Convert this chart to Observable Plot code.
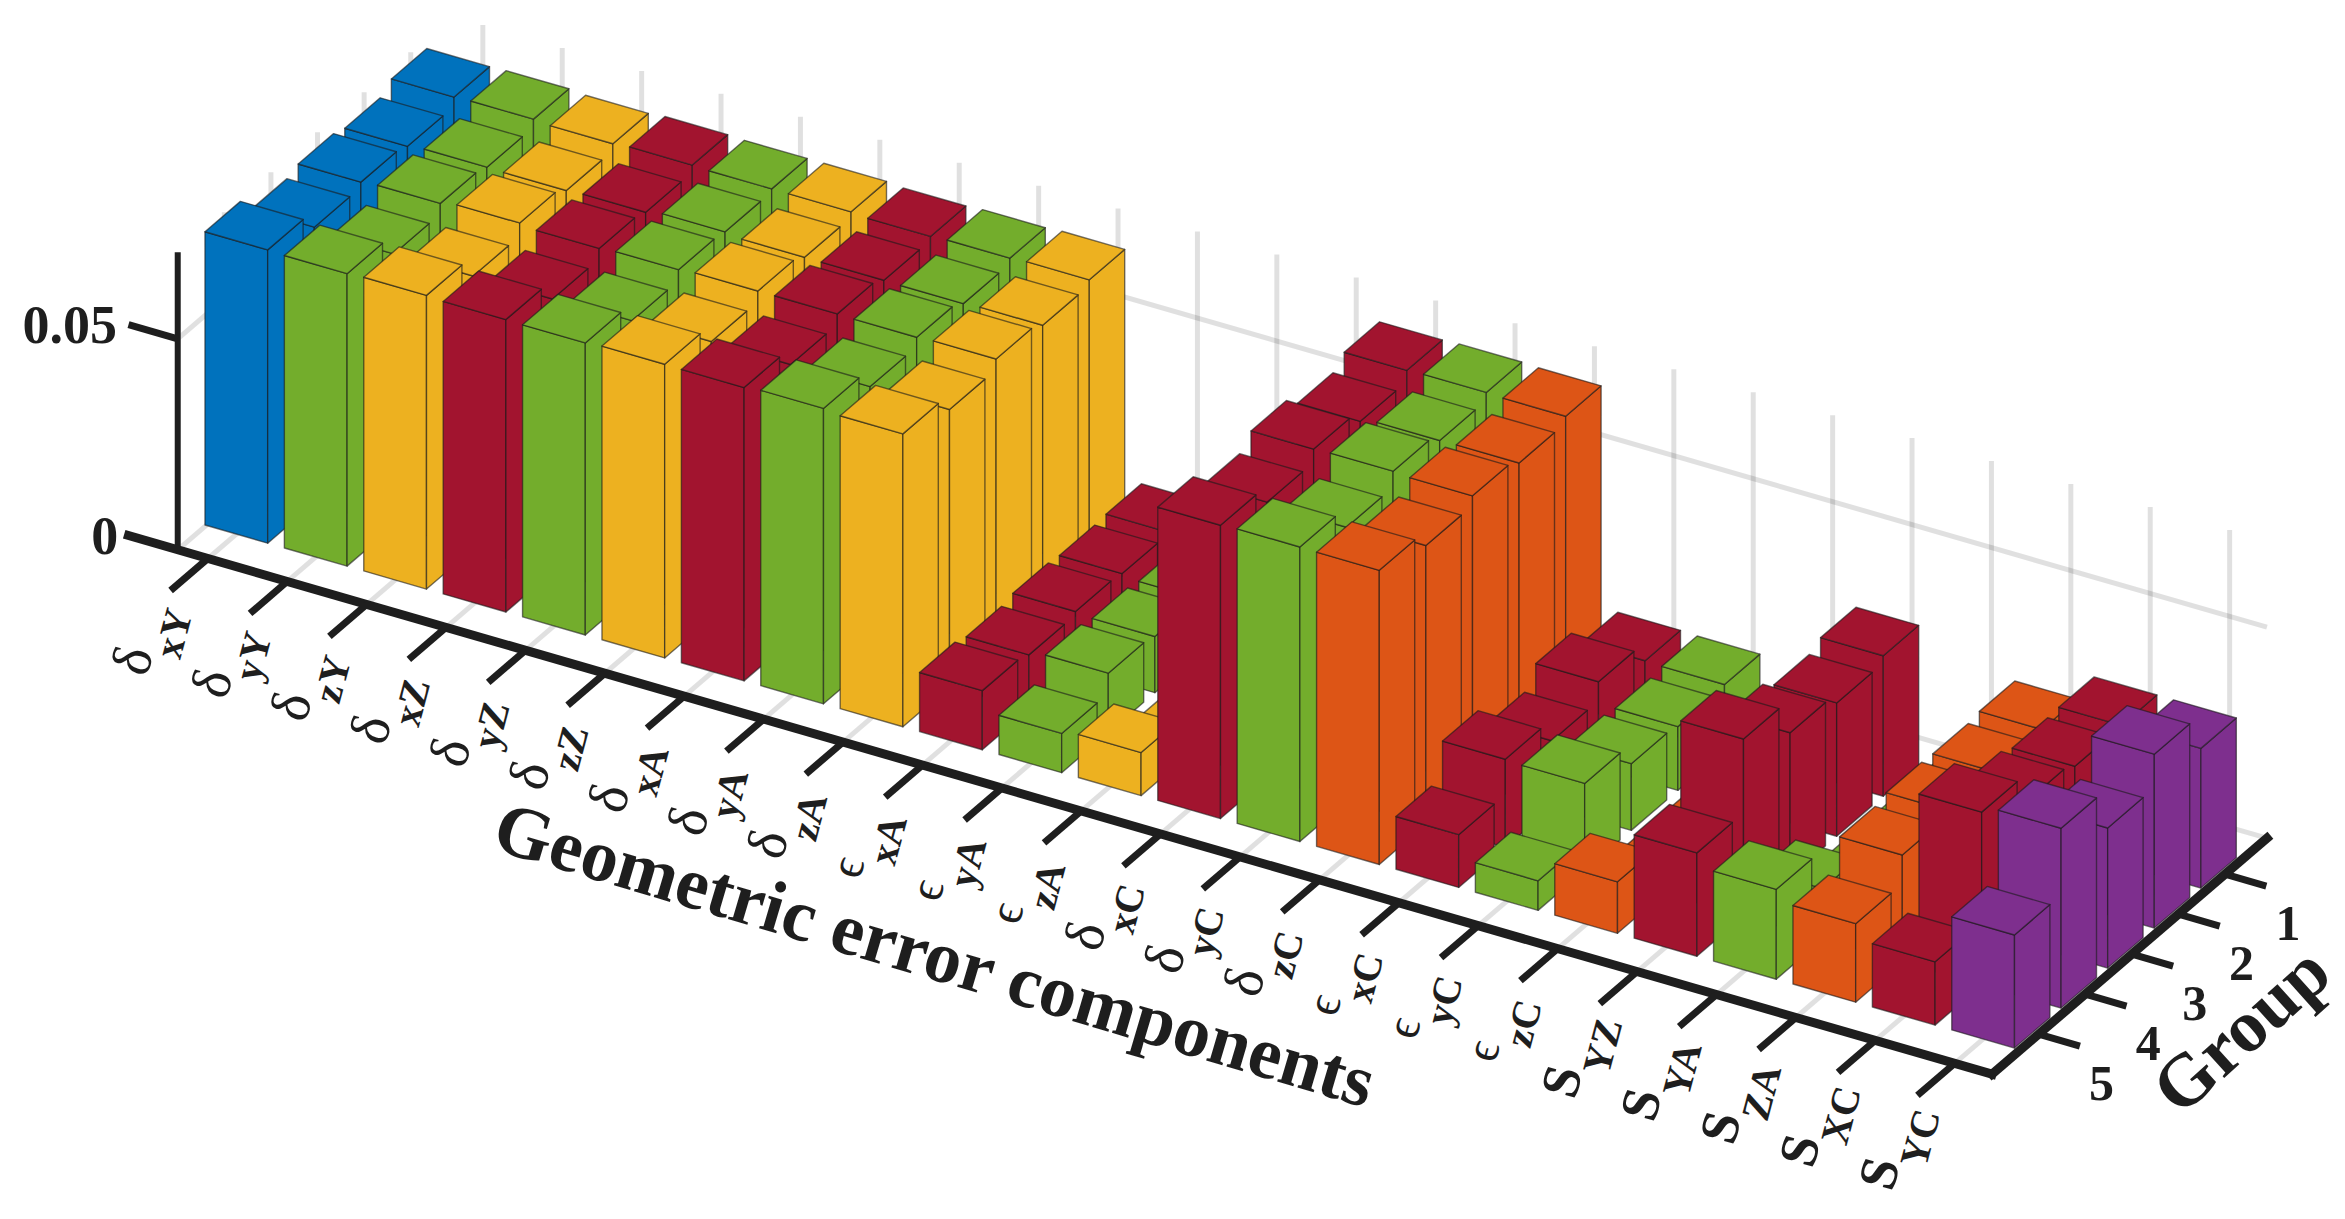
<!DOCTYPE html>
<html>
<head>
<meta charset="utf-8">
<style>html,body{margin:0;padding:0;background:#fff;overflow:hidden}svg{display:block}</style>
<script src="https://cdn.jsdelivr.net/npm/d3@7"></script>
<script src="https://cdn.jsdelivr.net/npm/@observablehq/plot@0.6"></script>
</head>
<body>
<div id="chart"></div>
<script>
// ---------- data ----------
const labelSymbols = ["δ","δ","δ","δ","δ","δ","δ","δ","δ","ϵ","ϵ","ϵ","δ","δ","δ","ϵ","ϵ","ϵ","S","S","S","S","S"];
const labelSubs = ["xY","yY","zY","xZ","yZ","zZ","xA","yA","zA","xA","yA","zA","xC","yC","zC","xC","yC","zC","YZ","YA","ZA","XC","YC"];
const barKinds = ["k1","k2","k3","k4","k2","k3","k4","k2","k3","k4","k2","k3","k4","k2","k5","k4","k2","k5","k4","k2","k5","k4","k6"];
const kindNames = ["k1","k2","k3","k4","k5","k6"];
const kindColors = ["#0072bd","#73ad2c","#edb120","#a2142f","#dd5516","#7e2f8e"];
const groupLabels = [1,2,3,4,5];
const zTicks = [0,0.05];
const group1 = [.0678,.068,.0676,.068,.0678,.0678,.0674,.0677,.068,.0136,.013,.002,.0683,.0685,.0683,.0158,.0156,.002,.0333,.002,.0267,.0331,.0331];
const group2 = [.0656,.0661,.066,.0663,.0671,.0665,.0665,.0664,.0667,.0133,.0126,.002,.0657,.0666,.0667,.0203,.0151,.002,.0316,.002,.0261,.0329,.0412];
const group3 = [.0666,.067,.0678,.0672,.0676,.068,.068,.0679,.0682,.0138,.0133,.002,.0686,.0688,.0684,.0158,.0158,.002,.034,.002,.0264,.0344,.0332];
const group4 = [.0654,.0645,.0647,.0647,.065,.0655,.0655,.0657,.0657,.013,.0141,.002,.0655,.065,.0661,.0209,.0206,.002,.042,.012,.0254,.041,.0426];
const group5 = [.0695,.0693,.0696,.0693,.0692,.0696,.0695,.07,.0694,.014,.0093,.0102,.0695,.0698,.0697,.0125,.007,.0122,.0245,.0213,.0186,.015,.0268];
const groups = [group1,group2,group3,group4,group5];

// ---------- oblique 3-D projection (component, depth, value) -> picture plane ----------
const zMax = 0.0705;
const project = (c, depth, z) => [
  254 + 79.4 * (c - 1) + 46.6 * depth,
  518 + 22.95 * (c - 1) - 40 * depth - 4220 * z
];
const halfBar = 0.395;
const depthFront = -1, depthBack = 4.9, cLeft = 0.62, cRight = 23.47;

// ---------- faces, painter's order: far to near ----------
const faces = [];
for (let c = 1; c <= labelSubs.length; ++c) {
  for (let g = 1; g <= groups.length; ++g) {
    const depth = 5 - g, v = groups[g - 1][c - 1], kind = barKinds[c - 1];
    const L = c - halfBar, R = c + halfBar, F = depth - 0.39, B = depth + 0.37;
    const quads = {
      front: [[L,F,0],[R,F,0],[R,F,v],[L,F,v]],
      right: [[R,F,0],[R,B,0],[R,B,v],[R,F,v]],
      top:   [[L,F,v],[R,F,v],[R,B,v],[L,B,v]]
    };
    for (const name in quads) for (const p of quads[name]) {
      const [x, y] = project(...p);
      faces.push({x, y, kind, face: `${c}-${g}-${name}`});
    }
  }
}

const comps = labelSubs.map((sub, k) => ({c: k + 1, sub, sym: labelSymbols[k]}));
const link = (a, b) => { const [x1,y1] = project(...a), [x2,y2] = project(...b); return {x1,y1,x2,y2}; };

// grid (translucent so crossings darken)
const gridLinks = [
  ...comps.map(d => link([d.c,depthFront,0],[d.c,depthBack,0])),
  ...comps.map(d => link([d.c,depthBack,0],[d.c,depthBack,zMax])),
  ...groupLabels.map(g => link([cLeft,5-g,0],[cLeft,5-g,zMax])),
  link([cLeft,depthFront,0],[cLeft,depthBack,0]),
  link([cLeft,depthBack,0],[cRight,depthBack,0]),
  link([cLeft,depthFront,zTicks[1]],[cLeft,depthBack,zTicks[1]]),
  link([cLeft,depthBack,zTicks[1]],[cRight,depthBack,zTicks[1]])
];
// axes and ticks
const axisLinks = [
  link([cLeft - 0.62,depthFront,0],[cRight,depthFront,0]),
  link([cRight,depthFront,0],[cRight,depthBack,0])
];
const zAxisLink = [link([cLeft,depthFront,0],[cLeft,depthFront,zMax])];
const tickLinks = [
  ...comps.map(d => link([d.c,depthFront,0],[d.c,depthFront - 0.8,0])),
  ...groupLabels.map(g => link([cRight,5-g,0],[cRight + 0.52,5-g,0])),
  link([cLeft,depthFront,zTicks[1]],[cLeft - 0.62,depthFront,zTicks[1]])
];

const at = (c, depth, dx, dy) => { const [x,y] = project(c,depth,0); return {x: x + dx, y: y + dy}; };
const symData = comps.map(d => ({...d, ...at(d.c, depthFront, -75, d.sym === "S" ? 110 : 102)}));
const subData = comps.map(d => ({...d, ...at(d.c, depthFront, -34, 75)}));
const groupTickData = groupLabels.map(g => ({g, ...at(cRight, 5-g, 63, 50)}));
const zTickData = zTicks.map(z => { const [x,y] = project(cLeft,depthFront,z); return {z, x: x - (z ? 108 : 73), y: y - 13}; });

const serif = "'Liberation Serif','DejaVu Serif',serif";
const ink = "#1e1e1e";
const chart = Plot.plot({
  width: 2345, height: 1219,
  marginTop: 0, marginRight: 0, marginBottom: 0, marginLeft: 0,
  x: {domain: [0,2345], range: [0,2345], axis: null},
  y: {domain: [0,1219], range: [0,1219], axis: null},
  color: {domain: kindNames, range: kindColors},
  marks: [
    Plot.link(gridLinks, {x1:"x1",y1:"y1",x2:"x2",y2:"y2",stroke:"#000",strokeOpacity:0.12,strokeWidth:5}),
    Plot.link(zAxisLink, {x1:"x1",y1:"y1",x2:"x2",y2:"y2",stroke:ink,strokeWidth:6}),
    Plot.line(faces, {x:"x",y:"y",z:"face",fill:"kind",stroke:"#1a1a1a",strokeOpacity:0.6,strokeWidth:1.4,curve:"linear-closed",strokeLinejoin:"round"}),
    Plot.link(axisLinks, {x1:"x1",y1:"y1",x2:"x2",y2:"y2",stroke:ink,strokeWidth:9,strokeLinecap:"square"}),
    Plot.link(tickLinks, {x1:"x1",y1:"y1",x2:"x2",y2:"y2",stroke:ink,strokeWidth:7}),
    Plot.text(symData.filter(d => d.sym === "δ"), {x:"x",y:"y",text:"sym",rotate:-75,fontSize:56,fontFamily:serif,fill:ink}),
    Plot.text(symData.filter(d => d.sym === "ϵ"), {x:"x",y:"y",text:"sym",rotate:-75,fontSize:48,fontFamily:serif,fill:ink}),
    Plot.text(symData.filter(d => d.sym === "S"), {x:"x",y:"y",text:"sym",rotate:-75,fontSize:54,fontWeight:"bold",fontFamily:serif,fill:ink}),
    Plot.text(subData, {x:"x",y:"y",text:"sub",rotate:-75,fontSize:40,fontWeight:"bold",fontFamily:serif,fill:ink}),
    Plot.text(groupTickData, {x:"x",y:"y",text:d => String(d.g),fontSize:50,fontWeight:"bold",fontFamily:serif,fill:ink}),
    Plot.text(zTickData, {x:"x",y:"y",text:d => String(d.z),fontSize:54,fontWeight:"bold",fontFamily:serif,fill:ink}),
    Plot.text(["Geometric error components"], {x:[934],y:[955],rotate:16.5,fontSize:74,fontWeight:"bold",fontFamily:serif,fill:ink}),
    Plot.text(["Group"], {x:[2241],y:[1030],rotate:-42,fontSize:74,fontWeight:"bold",fontFamily:serif,fill:ink})
  ]
});
document.getElementById("chart").append(chart);
</script>
</body>
</html>
